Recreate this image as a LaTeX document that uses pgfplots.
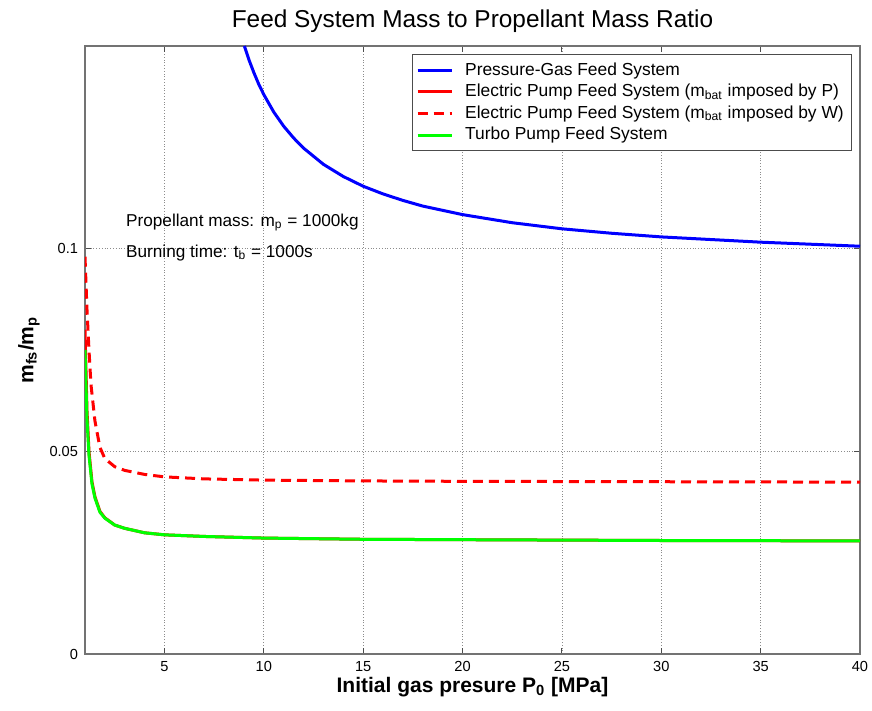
\documentclass[border=0pt]{standalone}
\usepackage{fontspec}
\setmainfont{Liberation Sans}
\usepackage{pgfplots}
\pgfplotsset{compat=1.18}

\begin{document}
\begin{tikzpicture}
\begin{axis}[
  scale only axis,
  width=387.5pt, height=304pt,
  xmin=1, xmax=40, ymin=0, ymax=0.15,
  xtick={5,10,...,40},
  ytick={0,0.05,0.1},
  yticklabels={0,0.05,0.1},
  /pgf/number format/assume math mode=true,
  tick label style={font=\fontsize{7.3}{8}\selectfont},
  grid=major,
  major grid style={densely dotted, black!45, line width=0.4pt},
  tick align=inside,
  axis line style={black!55, line width=0.6pt},
  tick style={black!70, line width=0.5pt},
  major tick length=3pt,
  title={Feed System Mass to Propellant Mass Ratio},
  title style={font=\fontsize{12.2}{14}\selectfont, yshift=-3pt},
  xlabel={\bfseries Initial gas presure P\textsubscript{0} [MPa]},
  ylabel={\bfseries m\textsubscript{fs}/m\textsubscript{p}},
  xlabel style={font=\fontsize{10.5}{11}\selectfont, yshift=4pt},
  ylabel style={font=\fontsize{10.5}{11}\selectfont, yshift=-2pt},
  legend cell align=left,
  legend style={at={(rel axis cs:0.99,0.987)}, anchor=north east,
    font=\fontsize{8.7}{9.5}\selectfont, draw=black!70, line width=0.5pt,
    inner sep=2pt, row sep=-1pt,
    /tikz/every odd column/.append style={column sep=4pt}},
  legend image code/.code={\draw[#1] (0pt,0pt) -- (17pt,0pt);},
]
% Pressure-gas feed system
\addplot[blue, line width=1.5pt] coordinates {
  (9.02,0.1500) (9.25,0.1466) (9.5,0.1434) (9.75,0.1405) (10,0.1380)
  (10.5,0.1337) (11,0.1302) (11.5,0.1273) (12,0.1248) (13,0.1208)
  (14,0.1178) (15,0.1154) (16,0.1135) (17,0.1119) (18,0.1105)
  (20,0.1084) (22.5,0.1064) (25,0.1049) (27.5,0.1038) (30,0.1029)
  (35,0.1016) (40,0.1006)};
\addlegendentry{Pressure-Gas Feed System}
% electric pump, battery mass from power (hidden under the turbo pump curve)
\addplot[red, line width=1.5pt] coordinates {
  (1,0.080) (1.1,0.060) (1.2,0.050) (1.35,0.0425) (1.5,0.0388)
  (1.75,0.0352) (2,0.0336) (2.5,0.0318) (3,0.0310) (4,0.0299)
  (5,0.0294) (7,0.0290) (10,0.0286) (15,0.0283) (20,0.0282)
  (30,0.0280) (40,0.0279)};
\addlegendentry{Electric Pump Feed System (m\textsubscript{bat} imposed by P)}
% electric pump, battery mass from energy
\addplot[red, line width=1.5pt, dash pattern=on 5pt off 3pt] coordinates {
  (1,0.0980) (1.1,0.0850) (1.2,0.0750) (1.3,0.0665) (1.5,0.0575)
  (1.75,0.0510) (2,0.0482) (2.5,0.0462) (3,0.0453) (4,0.0443)
  (5,0.0437) (7,0.0432) (10,0.0429) (15,0.0427) (20,0.0426)
  (30,0.0425) (40,0.0424)};
\addlegendentry{Electric Pump Feed System (m\textsubscript{bat} imposed by W)}
% turbo pump
\addplot[green, line width=1.5pt] coordinates {
  (1,0.075) (1.1,0.058) (1.2,0.049) (1.35,0.042) (1.5,0.0385)
  (1.75,0.0350) (2,0.0335) (2.5,0.0318) (3,0.0310) (4,0.0299)
  (5,0.0294) (7,0.0290) (10,0.0286) (15,0.0283) (20,0.0282)
  (30,0.0280) (40,0.0279)};
\addlegendentry{Turbo Pump Feed System}
\node[anchor=west, font=\fontsize{8.6}{9}\selectfont, inner sep=0pt]
  at (axis cs:3.05,0.1065) {Propellant mass: m\textsubscript{p} = 1000kg};
\node[anchor=west, font=\fontsize{8.6}{9}\selectfont, inner sep=0pt]
  at (axis cs:3.05,0.0990) {Burning time: t\textsubscript{b} = 1000s};
\end{axis}
\pgfresetboundingbox
\path ([shift={(-42.5pt,-28.5pt)}]current axis.south west)
  rectangle ([shift={(6pt,23pt)}]current axis.north east);
\end{tikzpicture}
\end{document}
